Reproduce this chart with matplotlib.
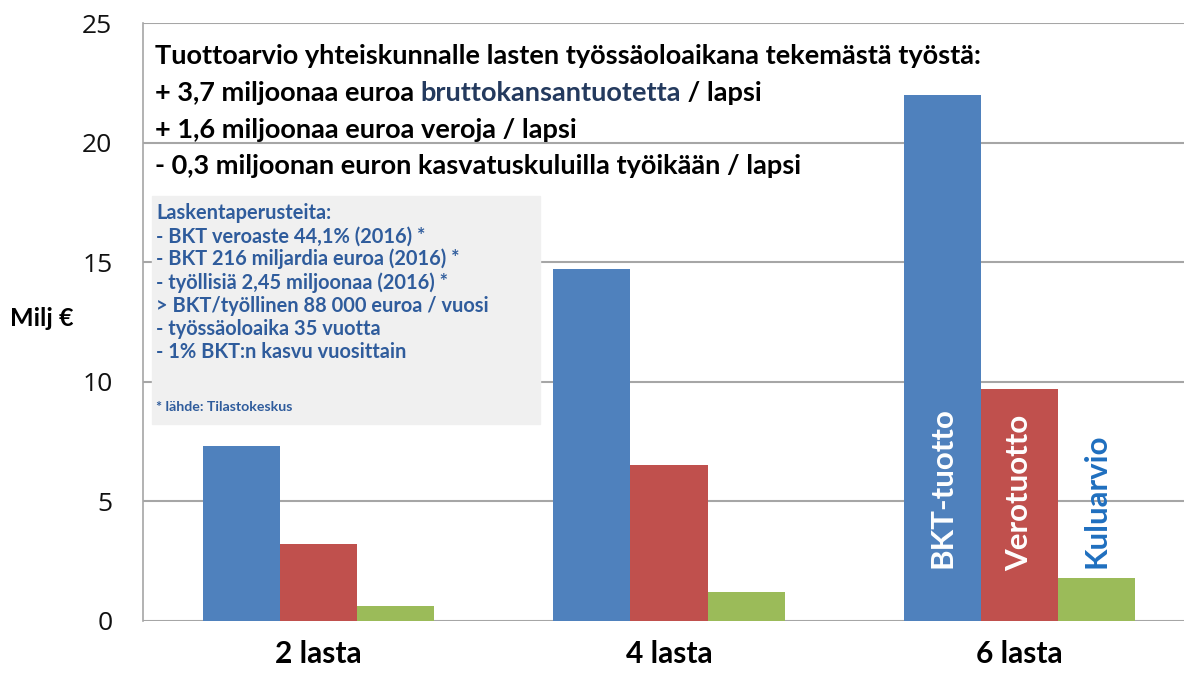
import matplotlib.pyplot as plt
import numpy as np

# data (million euros)
categories = ['2 lasta', '4 lasta', '6 lasta']
bkt_tuotto = [7.3, 14.7, 22.0]
verotuotto = [3.2, 6.5, 9.7]
kuluarvio = [0.6, 1.2, 1.8]
series_names = ['BKT-tuotto', 'Verotuotto', 'Kuluarvio']
yticks = [0, 5, 10, 15, 20, 25]

head_lines = ['Tuottoarvio yhteiskunnalle lasten työssäoloaikana tekemästä työstä:',
              '+ 3,7 miljoonaa euroa ', 'bruttokansantuotetta', ' / lapsi',
              '+ 1,6 miljoonaa euroa veroja / lapsi',
              '- 0,3 miljoonan euron kasvatuskuluilla työikään / lapsi']
box_lines = ['Laskentaperusteita:',
             '- BKT veroaste 44,1% (2016) *',
             '- BKT 216 miljardia euroa (2016) *',
             '- työllisiä 2,45 miljoonaa (2016) *',
             '> BKT/työllinen 88 000 euroa / vuosi',
             '- työssäoloaika 35 vuotta',
             '- 1% BKT:n kasvu vuosittain']
box_source = '* lähde: Tilastokeskus'

blue, red, green = '#4F81BD', '#C0504D', '#9BBB59'
box_blue = '#2F5C9C'
font = ['Lato', 'DejaVu Sans']

fig = plt.figure(figsize=(11.84, 6.77), dpi=100)
ax = fig.add_axes([143 / 1184, 1 - 620.7 / 677, 1052 / 1184, 597.3 / 677])

x = np.arange(len(categories))
w = 0.22
ax.bar(x - w, bkt_tuotto, w, color=blue, zorder=3)
ax.bar(x, verotuotto, w, color=red, zorder=3)
ax.bar(x + w, kuluarvio, w, color=green, zorder=3)

ax.set_xlim(-0.5, 2.5)
ax.set_ylim(0, 25)
ax.set_yticks(yticks)
ax.yaxis.grid(True, color='#A6A6A6', lw=1.5, zorder=0)
for s in ['top', 'right', 'bottom']:
    ax.spines[s].set_visible(False)
ax.spines['left'].set_color('#A6A6A6')
ax.spines['left'].set_linewidth(1.2)
ax.tick_params(axis='y', length=0, pad=22, labelsize=19, labelcolor='#111111')
ax.tick_params(axis='x', length=0, pad=14)
ax.set_xticks(x)
ax.set_xticklabels(categories, fontsize=21.5, fontweight='bold', family=font)
for lbl in ax.get_yticklabels():
    lbl.set_family(['Open Sans', 'DejaVu Sans'])
ax.set_ylabel('Milj €', rotation=0, fontsize=18, fontweight='bold', family=font)
ax.yaxis.set_label_coords(-0.096, 0.487)

# bar labels on the last group
ax.text(2 - w, 2.2, series_names[0], rotation=90, ha='center', va='bottom',
        color='white', fontsize=22.5, fontweight='bold', family=font, zorder=4)
ax.text(2, 2.1, series_names[1], rotation=90, ha='center', va='bottom',
        color='white', fontsize=22.5, fontweight='bold', family=font, zorder=4)
ax.text(2 + w, 2.2, series_names[2], rotation=90, ha='center', va='bottom',
        color='#1F6FBF', fontsize=22.5, fontweight='bold', family=font, zorder=4)

# headline text
px = lambda v: 1 - v / 677
fs = 19.5
fig.text(155 / 1184, px(64), head_lines[0], fontsize=fs, fontweight='bold', family=font, va='baseline')
t1 = fig.text(155 / 1184, px(101), head_lines[1], fontsize=fs, fontweight='bold', family=font, va='baseline')
t2 = ax.annotate(head_lines[2], xy=(1, 0), xycoords=t1, va='bottom', fontsize=fs,
                 fontweight='bold', family=font, color='#243A5E', annotation_clip=False)
ax.annotate(head_lines[3], xy=(1, 0), xycoords=t2, va='bottom', fontsize=fs,
            fontweight='bold', family=font, annotation_clip=False)
fig.text(155 / 1184, px(138), head_lines[4], fontsize=fs, fontweight='bold', family=font, va='baseline')
fig.text(155 / 1184, px(174), head_lines[5], fontsize=fs, fontweight='bold', family=font, va='baseline')

# grey info box
fig.patches.append(plt.Rectangle((152 / 1184, px(424)), 388 / 1184, 228 / 677,
                                 transform=fig.transFigure, color='#F0F0F0', zorder=2))
for i, line in enumerate(box_lines):
    fig.text(156 / 1184, px(219 + i * 23.2), line, fontsize=14.4, fontweight='bold',
             family=font, color=box_blue, va='baseline', zorder=5)
fig.text(156 / 1184, px(411), box_source, fontsize=10.2, fontweight='bold',
         family=font, color=box_blue, va='baseline', zorder=5)

fig.savefig('out.png', dpi=100)
